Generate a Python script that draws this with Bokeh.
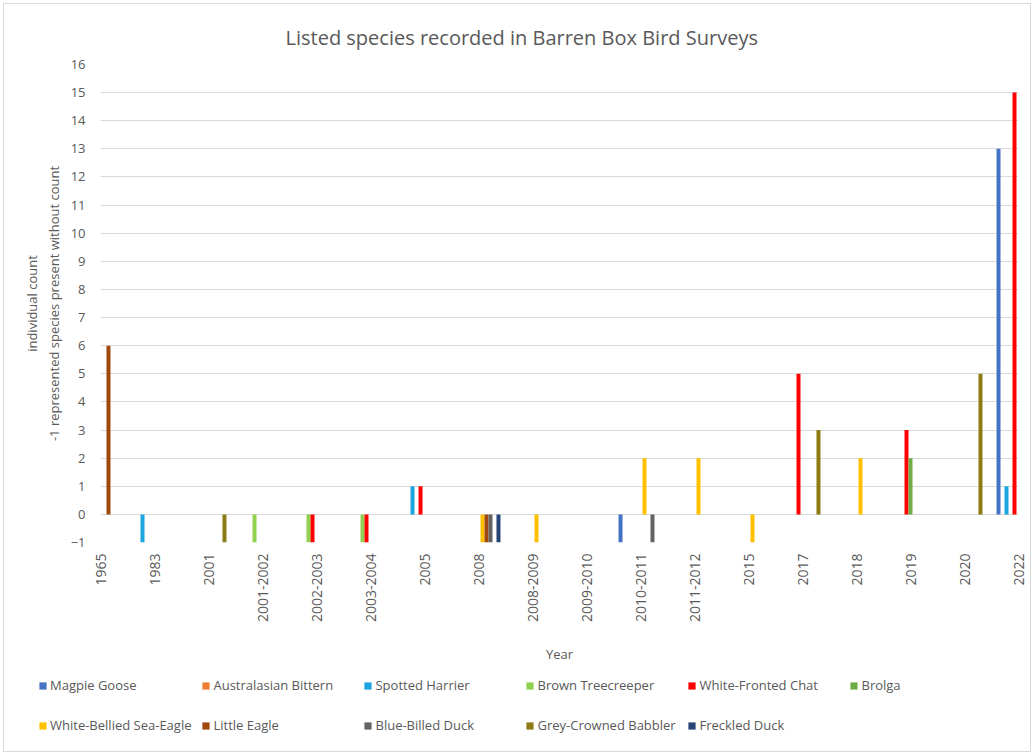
from bokeh.plotting import figure
from bokeh.layouts import column
from bokeh.models import Range1d, FixedTicker, Legend, LegendItem
from bokeh.embed import file_html
from bokeh.resources import INLINE
import math

# Survey periods (x categories)
categories = ["1965", "1983", "2001", "2001-2002", "2002-2003", "2003-2004", "2005",
              "2008", "2008-2009", "2009-2010", "2010-2011", "2011-2012", "2015",
              "2017", "2018", "2019", "2020", "2022"]

N = None
# Individual counts per species; -1 = present without a count, None = not recorded
magpie_goose =        [N, N, N, N, N, N, N, N, N, N, -1, N, N, N, N, N, N, 13]
australasian_bittern = [N, N, N, N, N, N, N, N, N, N, N, N, N, N, N, N, N, N]
spotted_harrier =     [N, -1, N, N, N, N, 1, N, N, N, N, N, N, N, N, N, N, 1]
brown_treecreeper =   [N, N, N, -1, -1, -1, N, N, N, N, N, N, N, N, N, N, N, N]
white_fronted_chat =  [N, N, N, N, -1, -1, 1, N, N, N, N, N, N, 5, N, 3, N, 15]
brolga =              [N, N, N, N, N, N, N, N, N, N, N, N, N, N, N, 2, N, N]
white_bellied_sea_eagle = [N, N, N, N, N, N, N, -1, -1, N, 2, 2, -1, N, 2, N, N, N]
little_eagle =        [6, N, N, N, N, N, N, -1, N, N, N, N, N, N, N, N, N, N]
blue_billed_duck =    [N, N, N, N, N, N, N, -1, N, N, -1, N, N, N, N, N, N, N]
grey_crowned_babbler = [N, N, -1, N, N, N, N, N, N, N, N, N, N, 3, N, N, 5, N]
freckled_duck =       [N, N, N, N, N, N, N, -1, N, N, N, N, N, N, N, N, N, N]

series_names = ["Magpie Goose", "Australasian Bittern", "Spotted Harrier",
                "Brown Treecreeper", "White-Fronted Chat", "Brolga",
                "White-Bellied Sea-Eagle", "Little Eagle", "Blue-Billed Duck",
                "Grey-Crowned Babbler", "Freckled Duck"]
series_values = [magpie_goose, australasian_bittern, spotted_harrier,
                 brown_treecreeper, white_fronted_chat, brolga,
                 white_bellied_sea_eagle, little_eagle, blue_billed_duck,
                 grey_crowned_babbler, freckled_duck]
series_colors = ["#4472C4", "#ED7D31", "#1CA6DF", "#92D050", "#FF0000", "#70AD47",
                 "#FFC000", "#9E480E", "#636363", "#8C7A12", "#264478"]

y_ticks = list(range(-1, 17))

TEXT = "#595959"
FONT = "Open Sans"
W = 1026
H_MAIN = 663
H_LEG = 84
NAN = float("nan")

# ---- main chart -------------------------------------------------------------
p = figure(width=W, height=H_MAIN,
           x_range=Range1d(0, len(categories) - 1), y_range=Range1d(-1, 16),
           output_backend="svg", toolbar_location=None,
           min_border_left=96, min_border_right=12,
           min_border_top=60, min_border_bottom=125)
p.outline_line_color = None
p.border_fill_color = "white"

p.title.text = "Listed species recorded in Barren Box Bird Surveys"
p.title.align = "left"
p.title.offset = 185
p.title.text_font = FONT
p.title.text_font_size = "20px"
p.title.text_font_style = "normal"
p.title.text_line_height = 1.0
p.title.text_color = TEXT
p.title.standoff = 28

# clustered bars: each species gets its own slot around the category position
n_series = len(series_names)
slot = 0.074
for k, (name, vals, col) in enumerate(zip(series_names, series_values, series_colors)):
    xs = [i + (k - (n_series - 1) / 2) * slot for i in range(len(categories))]
    tops = [NAN if v is None else v for v in vals]
    p.vbar(x=xs, top=tops, bottom=0, width=slot, color=col, line_color=None)

p.xgrid.visible = False
p.ygrid.ticker = FixedTicker(ticks=y_ticks)
p.ygrid.grid_line_color = "#D9D9D9"

p.yaxis.ticker = FixedTicker(ticks=y_ticks)
p.yaxis.axis_line_color = None
p.yaxis.major_tick_line_color = None
p.yaxis.minor_tick_line_color = None
p.yaxis.major_label_standoff = 9
p.yaxis.major_label_text_font = FONT
p.yaxis.major_label_text_font_size = "13px"
p.yaxis.major_label_text_color = TEXT
p.yaxis.axis_label = "individual count\n-1 represented species present without count"
p.yaxis.axis_label_text_font = FONT
p.yaxis.axis_label_text_font_size = "13px"
p.yaxis.axis_label_text_font_style = "normal"
p.yaxis.axis_label_text_color = TEXT
p.yaxis.axis_label_standoff = 5

p.xaxis.ticker = FixedTicker(ticks=list(range(len(categories))))
p.xaxis.major_label_overrides = {i: c for i, c in enumerate(categories)}
p.xaxis.major_label_orientation = math.pi / 2
p.xaxis.axis_line_color = None
p.xaxis.major_tick_line_color = None
p.xaxis.minor_tick_line_color = None
p.xaxis.major_label_standoff = 5
p.xaxis.major_label_text_font = FONT
p.xaxis.major_label_text_font_size = "14px"
p.xaxis.major_label_text_color = TEXT
p.xaxis.axis_label = "Year"
p.xaxis.axis_label_text_font = FONT
p.xaxis.axis_label_text_font_size = "13px"
p.xaxis.axis_label_text_font_style = "normal"
p.xaxis.axis_label_text_color = TEXT
p.xaxis.axis_label_standoff = 20

# ---- legend strip under the chart -----------------------------------------
lg = figure(width=W, height=H_LEG, x_range=Range1d(0, 1), y_range=Range1d(0, 1),
            output_backend="svg", toolbar_location=None,
            x_axis_location=None, y_axis_location=None,
            min_border_left=96, min_border_right=0,
            min_border_top=0, min_border_bottom=0)
lg.styles = {"margin-left": "-62px"}
lg.grid.visible = False
lg.outline_line_color = None
lg.border_fill_alpha = 0
lg.background_fill_alpha = 0

items = []
for name, col in zip(series_names, series_colors):
    # swatch-only renderer: its single row is empty, so nothing lands in the frame
    r = lg.quad(left=[NAN], right=[NAN], top=[NAN], bottom=[NAN],
                fill_color=col, line_color=None)
    items.append(LegendItem(label=name, renderers=[r]))

legend = Legend(items=items, location=(0, 11), orientation="horizontal", ncols=6,
                glyph_width=9, glyph_height=9, label_standoff=3,
                label_width=140, label_height=30, spacing=10,
                padding=0, margin=0,
                label_text_font=FONT, label_text_font_size="13px",
                label_text_color=TEXT,
                border_line_color=None, background_fill_alpha=0)
lg.add_layout(legend)

layout = column(p, lg, spacing=0,
                styles={"border": "1px solid #d9d9d9", "margin": "3px",
                        "background-color": "white"})

open("out.html", "w").write(file_html(layout, INLINE))
